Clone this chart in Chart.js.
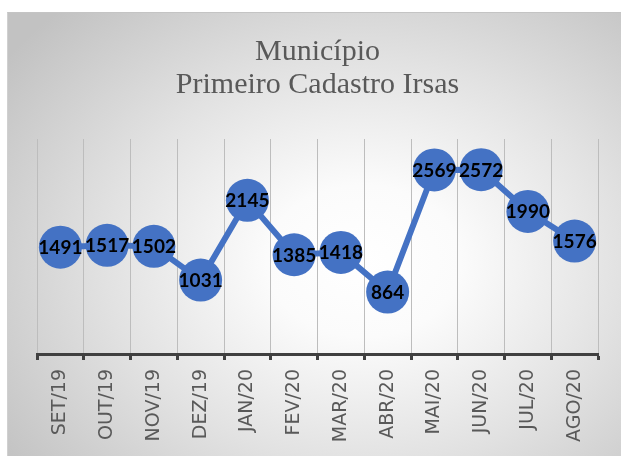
<!DOCTYPE html>
<html>
<head>
<meta charset="utf-8">
<script src="https://cdn.jsdelivr.net/npm/chart.js@4/dist/chart.umd.min.js"></script>
<style>
  html, body { margin: 0; padding: 0; background: #ffffff; }
  #wrap { position: relative; width: 621px; height: 456px; }
  #bg { position: absolute; left: 7px; top: 12px; width: 614px; height: 444px;
        border-top: 1px solid #c4c4c4; border-left: 1px solid #d0d0d0; box-sizing: border-box;
        background: radial-gradient(ellipse 72% 78% at 58% 56%, #ffffff 0%, #fbfbfb 22%, #e2e2e2 58%, #c2c2c2 100%); }
  #c { position: absolute; left: 0; top: 0; }
</style>
</head>
<body>
<div id="wrap">
  <div id="bg"></div>
  <canvas id="c" width="621" height="456"></canvas>
</div>
<script>
const titleLines = ['Município', 'Primeiro Cadastro Irsas'];
const categories = ['SET/19', 'OUT/19', 'NOV/19', 'DEZ/19', 'JAN/20', 'FEV/20', 'MAR/20', 'ABR/20', 'MAI/20', 'JUN/20', 'JUL/20', 'AGO/20'];
const values = [1491, 1517, 1502, 1031, 2145, 1385, 1418, 864, 2569, 2572, 1990, 1576];
const yMin = 0;
const yMax = 3000;

const valueLabels = {
  id: 'valueLabels',
  afterDatasetsDraw(chart) {
    const ctx = chart.ctx;
    const meta = chart.getDatasetMeta(0);
    ctx.save();
    ctx.font = 'bold 19px Lato';
    ctx.fillStyle = '#000000';
    ctx.textAlign = 'center';
    ctx.textBaseline = 'alphabetic';
    meta.data.forEach((pt, i) => {
      ctx.fillText(String(values[i]), pt.x, pt.y + 7);
    });
    ctx.restore();
  }
};

new Chart(document.getElementById('c'), {
  type: 'line',
  data: {
    labels: categories,
    datasets: [{
      data: values,
      borderColor: '#4472C4',
      backgroundColor: '#4472C4',
      borderWidth: 6,
      pointRadius: 21.5,
      pointHoverRadius: 21.5,
      pointBorderWidth: 0,
      pointBackgroundColor: '#4472C4',
      tension: 0,
      clip: false
    }]
  },
  options: {
    responsive: false,
    devicePixelRatio: 1,
    animation: false,
    events: [],
    layout: { padding: { left: 37, right: 23, top: 0, bottom: 0 } },
    plugins: {
      legend: { display: false },
      tooltip: { enabled: false },
      title: {
        display: true,
        text: titleLines,
        color: '#595959',
        font: { family: 'Liberation Serif', size: 30, weight: 'normal', lineHeight: 1.09 },
        padding: { top: 36, bottom: 37.6 }
      }
    },
    scales: {
      x: {
        offset: true,
        grid: {
          offset: true,
          color: '#bdbdbd',
          lineWidth: 1,
          drawTicks: true,
          tickLength: 6,
          tickColor: '#404040',
          tickWidth: 3
        },
        border: { display: true, color: '#404040', width: 3 },
        ticks: {
          color: '#595959',
          font: { family: 'DejaVu Sans', size: 19 },
          minRotation: 90,
          maxRotation: 90,
          padding: 9,
          autoSkip: false
        },
        afterFit(scale) { scale.height = 102; }
      },
      y: {
        display: false,
        min: yMin,
        max: yMax
      }
    }
  },
  plugins: [valueLabels]
});
</script>
</body>
</html>
